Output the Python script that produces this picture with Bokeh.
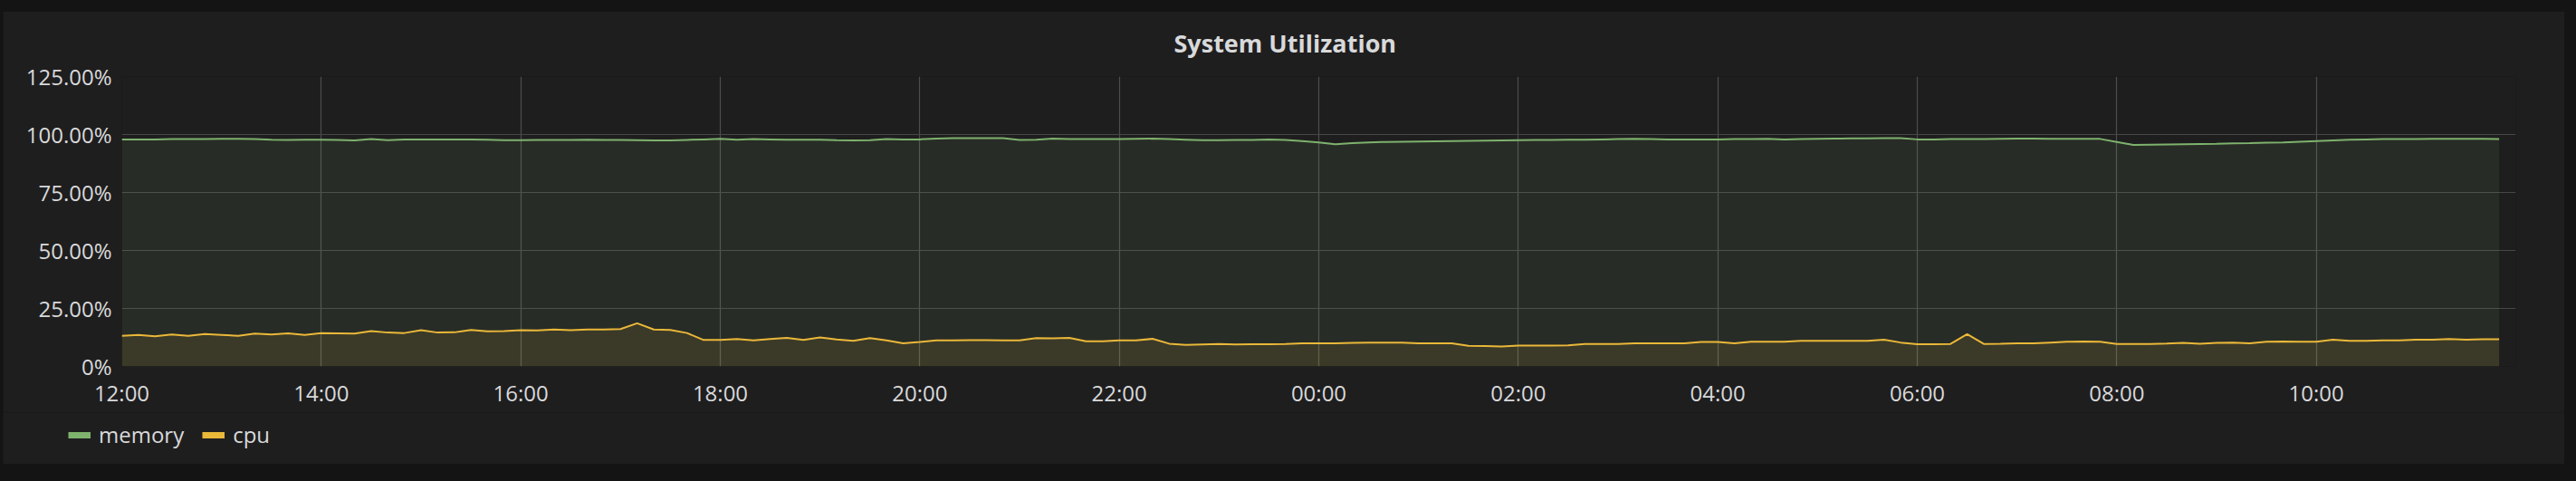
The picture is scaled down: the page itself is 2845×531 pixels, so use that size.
import pandas as pd
from bokeh.plotting import figure
from bokeh.layouts import column
from bokeh.models import (ColumnDataSource, FixedTicker, DatetimeTickFormatter, Legend,
                          LegendItem, Range1d, Title)
from bokeh.embed import file_html
from bokeh.resources import INLINE

# ---------------- data ----------------
start_time = "2018-03-01 12:00"
sample_interval = "10min"

memory = [
    97.9, 97.9, 97.9, 98.0, 98.0, 98.0, 98.1, 98.1, 98.0, 97.8, 97.7, 97.8,
    97.8, 97.7, 97.5, 98.0, 97.6, 97.9, 97.9, 97.9, 97.9, 97.9, 97.8, 97.6,
    97.6, 97.7, 97.7, 97.7, 97.8, 97.7, 97.7, 97.6, 97.5, 97.5, 97.7, 97.9,
    98.1, 97.8, 98.0, 97.9, 97.8, 97.8, 97.8, 97.6, 97.5, 97.6, 98.0, 97.9,
    97.9, 98.2, 98.4, 98.4, 98.4, 98.4, 97.7, 97.8, 98.2, 98.0, 98.0, 98.0,
    98.0, 98.1, 98.2, 98.0, 97.8, 97.6, 97.6, 97.7, 97.7, 97.9, 97.7, 97.2,
    96.6, 95.8, 96.3, 96.6, 96.8, 96.9, 97.0, 97.1, 97.2, 97.3, 97.4, 97.5,
    97.6, 97.7, 97.7, 97.8, 97.8, 97.9, 98.0, 98.1, 98.0, 97.9, 97.9, 97.9,
    97.9, 98.0, 98.0, 98.1, 97.9, 98.0, 98.1, 98.2, 98.3, 98.3, 98.4, 98.4,
    97.9, 97.9, 98.0, 98.0, 98.0, 98.1, 98.2, 98.2, 98.1, 98.1, 98.1, 98.1,
    96.8, 95.5, 95.6, 95.7, 95.8, 95.9, 96.0, 96.2, 96.3, 96.5, 96.6, 96.9,
    97.2, 97.5, 97.8, 97.9, 98.0, 98.0, 98.0, 98.1, 98.1, 98.1, 98.1, 98.0,
]

cpu = [
    13.2, 13.6, 13.0, 13.8, 13.2, 14.0, 13.6, 13.2, 14.2, 13.8, 14.3, 13.6,
    14.4, 14.3, 14.2, 15.2, 14.6, 14.4, 15.6, 14.6, 14.7, 15.7, 15.1, 15.2,
    15.6, 15.5, 15.9, 15.6, 15.9, 15.9, 16.1, 18.6, 15.9, 15.7, 14.4, 11.4,
    11.4, 11.8, 11.2, 11.8, 12.3, 11.4, 12.5, 11.6, 11.0, 12.2, 11.2, 10.0,
    10.5, 11.2, 11.2, 11.3, 11.3, 11.2, 11.2, 12.2, 12.1, 12.3, 10.8, 10.8,
    11.2, 11.2, 11.9, 9.8, 9.3, 9.5, 9.7, 9.5, 9.6, 9.6, 9.7, 10.0,
    10.0, 10.0, 10.2, 10.3, 10.3, 10.3, 10.0, 10.0, 10.0, 8.9, 8.8, 8.6,
    9.0, 9.0, 9.0, 9.1, 9.7, 9.7, 9.7, 10.0, 10.0, 10.0, 10.0, 10.5,
    10.5, 10.0, 10.6, 10.6, 10.6, 11.0, 11.0, 11.0, 11.0, 11.0, 11.5, 10.3,
    9.6, 9.6, 9.7, 13.9, 9.7, 9.8, 10.0, 10.0, 10.3, 10.6, 10.7, 10.6,
    9.7, 9.7, 9.7, 9.9, 10.2, 9.8, 10.2, 10.3, 10.0, 10.6, 10.7, 10.6,
    10.6, 11.5, 11.0, 11.0, 11.2, 11.2, 11.5, 11.5, 11.8, 11.5, 11.7, 11.7,
]

series_names = ["memory", "cpu"]
series_colors = ["#7eb26d", "#eab839"]

y_ticks = [0, 25, 50, 75, 100, 125]
y_tick_labels = ["0%", "25.00%", "50.00%", "75.00%", "100.00%", "125.00%"]
x_tick_labels = ["12:00", "14:00", "16:00", "18:00", "20:00", "22:00",
                 "00:00", "02:00", "04:00", "06:00", "08:00", "10:00"]
title_text = "System Utilization"

# ---------------- build ----------------
t0 = pd.Timestamp(start_time)
times = pd.date_range(t0, periods=len(memory), freq=sample_interval)
src = ColumnDataSource(dict(t=times, memory=memory, cpu=cpu))

BG = "#1f1e1f"
TXT = "#d8d9da"
FONT = "Open Sans"

p = figure(width=2829, height=448, x_axis_type="datetime",
           output_backend="svg", toolbar_location=None,
           x_range=Range1d(t0, t0 + pd.Timedelta(hours=24)),
           y_range=Range1d(0, 125),
           min_border_left=131, min_border_right=54,
           min_border_top=76, min_border_bottom=51)
p.frame_align = False

p.background_fill_color = BG
p.border_fill_color = BG
p.outline_line_color = None

title = Title(text=title_text, align="left", offset=1162,
              text_font=FONT, text_font_size="27px", text_font_style="bold",
              text_color=TXT, standoff=38)
p.add_layout(title, "above")

# tick positions from labels (every two hours starting at start time)
tick_times = []
for lab in x_tick_labels:
    hh, mm = [int(v) for v in lab.split(":")]
    delta = (pd.Timedelta(hours=hh, minutes=mm) - pd.Timedelta(hours=t0.hour, minutes=t0.minute))
    if delta < pd.Timedelta(0):
        delta += pd.Timedelta(hours=24)
    tick_times.append((t0 + delta).value / 1e6)

p.xaxis.ticker = FixedTicker(ticks=tick_times)
fmt = "%H:%M"
p.xaxis.formatter = DatetimeTickFormatter(
    microseconds=fmt, milliseconds=fmt, seconds=fmt, minsec=fmt, minutes=fmt,
    hourmin=fmt, hours=fmt, days=fmt, months=fmt, years=fmt)
p.yaxis.ticker = FixedTicker(ticks=y_ticks)
p.yaxis.major_label_overrides = {v: l for v, l in zip(y_ticks, y_tick_labels)}

for ax in (p.xaxis, p.yaxis):
    ax.axis_line_color = None
    ax.major_tick_line_color = None
    ax.minor_tick_line_color = None
    ax.major_tick_out = 0
    ax.major_tick_in = 0
    ax.major_label_text_font = FONT
    ax.major_label_text_font_size = "24px"
    ax.major_label_text_color = TXT
p.xaxis.major_label_standoff = 12
p.yaxis.major_label_standoff = 11

p.xgrid.grid_line_color = "#4d4d4d"
p.ygrid.grid_line_color = "#474747"
p.xgrid.grid_line_width = 1.2
p.ygrid.grid_line_width = 1.2

for name, col in zip(series_names, series_colors):
    p.varea(x="t", y1=0, y2=name, source=src, fill_color=col, fill_alpha=0.1)
for name, col in zip(series_names, series_colors):
    p.line(x="t", y=name, source=src, line_color=col, line_width=2)

# ---------------- legend strip ----------------
lf = figure(width=2829, height=57, output_backend="svg", toolbar_location=None,
            x_range=Range1d(0, 1), y_range=Range1d(0, 1),
            x_axis_location=None, y_axis_location=None,
            min_border_left=0, min_border_right=0, min_border_top=0, min_border_bottom=0)
lf.frame_align = False
lf.grid.visible = False
lf.background_fill_color = BG
lf.border_fill_color = BG
lf.outline_line_color = None

leg_items = []
for name, col in zip(series_names, series_colors):
    swatch = lf.line(x=[0.5], y=[float("nan")], line_color=col, line_width=7, line_cap="butt")
    leg_items.append(LegendItem(label=name, renderers=[swatch]))

legend = Legend(items=leg_items, orientation="horizontal", location=(72, 16),
                background_fill_alpha=0, border_line_alpha=0, padding=0, margin=0,
                glyph_width=25, glyph_height=30, label_height=30, label_standoff=9,
                spacing=20, label_text_font=FONT, label_text_font_size="24px",
                label_text_color=TXT)
lf.add_layout(legend)

layout = column(p, lf, spacing=0)

html = file_html(layout, INLINE)
html = html.replace("</head>", "<style>html,body{background:#141414 !important;margin:0 !important;}"
                    "body{padding:7px 0 0 3px !important;}"
                    "body::before{content:'';position:fixed;top:0;left:0;right:0;height:13px;"
                    "background:#141414;z-index:100;}</style></head>", 1)
open("out.html", "w").write(html)
